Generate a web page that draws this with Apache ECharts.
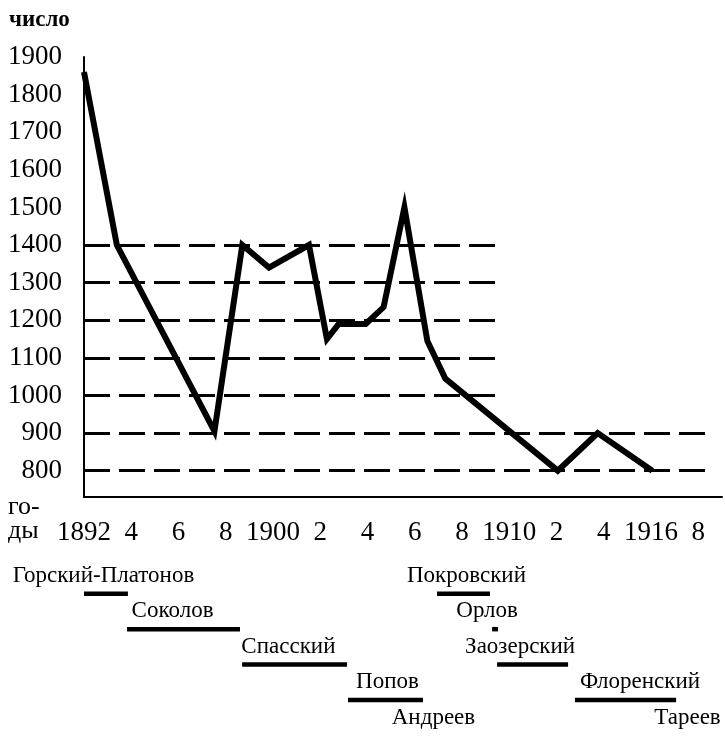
<!DOCTYPE html>
<html lang="ru">
<head>
<meta charset="utf-8">
</head>
<body style="margin: 0; background: #fff">
<div id="container" style="width: 725px; height: 736px"></div>
<script src="https://cdn.jsdelivr.net/npm/echarts@6/dist/echarts.min.js"></script>
<script>
// main curve (x in years of the drawn scale)
var lineYears = [1892.0, 1893.39, 1897.52, 1898.70, 1899.83, 1901.52, 1902.28, 1902.78,
                 1903.92, 1904.68, 1905.56, 1906.53, 1907.29, 1912.05, 1913.74, 1916.05];
var lineValues = [1860, 1400, 905, 1400, 1340, 1400, 1150, 1190,
                  1190, 1235, 1500, 1145, 1045, 800, 900, 800];

// dashed guide lines and the year where each one stops
var levels = [1400, 1300, 1200, 1100, 1000, 900, 800];
var levelEnds = [1909.4, 1909.4, 1909.4, 1909.4, 1909.4, 1918.66, 1918.66];

var valueTicks = [800, 900, 1000, 1100, 1200, 1300, 1400, 1500, 1600, 1700, 1800, 1900];
var yearTicks = [1892, 1894, 1896, 1898, 1900, 1902, 1904, 1906, 1908, 1910, 1912, 1914, 1916, 1918];
var yearTickLabels = ['1892', '4', '6', '8', '1900', '2', '4', '6', '8', '1910', '2', '4', '1916', '8'];

// names under the chart: centre year of the text and its row
var names = ['Горский-Платонов', 'Соколов', 'Спасский', 'Попов', 'Андреев',
             'Покровский', 'Орлов', 'Заозерский', 'Флоренский', 'Тареев'];
var nameYears = [1892.82, 1895.73, 1900.61, 1904.78, 1906.72,
                 1908.11, 1908.98, 1910.37, 1915.42, 1917.42];
var nameRows = [0, 1, 2, 3, 4, 0, 1, 2, 3, 4];

// underlines = terms of office
var termStart = [1892.0, 1893.81, 1898.66, 1903.12, 1906.87, 1909.19, 1909.40, 1912.68];
var termEnd = [1893.85, 1898.57, 1903.08, 1906.28, 1909.10, 1909.44, 1912.39, 1916.94];
var termRow = [0, 1, 2, 3, 0, 1, 2, 3];

var font = '"Liberation Serif", "DejaVu Serif", serif';

var chart = echarts.init(document.getElementById('container'), null, { renderer: 'canvas' });

var lineData = lineYears.map(function (y, i) { return [y, lineValues[i]]; });
var guideLines = levels.map(function (lv, i) {
  return [{ coord: [1892, lv] }, { coord: [levelEnds[i], lv] }];
});
var nameData = names.map(function (n, i) { return [nameYears[i], nameRows[i] - 0.5, n]; });
var termData = termStart.map(function (s, i) { return [s, termEnd[i], termRow[i]]; });

var option = {
  animation: false,
  backgroundColor: '#fff',
  textStyle: { fontFamily: font, color: '#000' },
  graphic: [
    { type: 'text', left: 9, top: 9, style: { text: 'число', font: 'bold 23px ' + font, fill: '#000' } },
    { type: 'text', left: 8, top: 494, style: { text: 'го-', font: '26px ' + font, fill: '#000' } },
    { type: 'text', left: 8, top: 518, style: { text: 'ды', font: '26px ' + font, fill: '#000' } }
  ],
  grid: [
    { left: 84, right: 0, top: 57, bottom: 239 },
    { left: 84, right: 0, top: 558, height: 178 }
  ],
  xAxis: [
    {
      type: 'value', gridIndex: 0, min: 1892, max: 1919, interval: 2,
      axisLine: { show: true, lineStyle: { color: '#000', width: 2 } },
      axisTick: { show: false },
      splitLine: { show: false },
      axisLabel: {
        margin: 22, fontSize: 27, fontFamily: font, color: '#000',
        formatter: function (v) {
          var i = yearTicks.indexOf(v);
          return i < 0 ? '' : yearTickLabels[i];
        }
      }
    },
    { type: 'value', gridIndex: 1, min: 1892, max: 1919, show: false }
  ],
  yAxis: [
    {
      type: 'value', gridIndex: 0, min: 730, max: 1900,
      axisLine: { show: true, lineStyle: { color: '#000', width: 2 } },
      axisTick: { show: false },
      splitLine: { show: false },
      axisLabel: {
        customValues: valueTicks,
        margin: 22, fontSize: 27, fontFamily: font, color: '#000',
        formatter: function (v) { return String(v); }
      }
    },
    { type: 'value', gridIndex: 1, min: -1, max: 4.02, inverse: true, show: false }
  ],
  series: [
    {
      type: 'line',
      xAxisIndex: 0, yAxisIndex: 0,
      data: lineData,
      symbol: 'none',
      lineStyle: { color: '#000', width: 6, join: 'miter' },
      markLine: {
        silent: true,
        symbol: 'none',
        label: { show: false },
        lineStyle: { color: '#000', width: 3, type: [26, 9] },
        data: guideLines
      },
      z: 3
    },
    {
      type: 'custom',
      xAxisIndex: 1, yAxisIndex: 1,
      data: termData,
      encode: { x: [0, 1], y: 2 },
      renderItem: function (params, api) {
        var a = api.coord([api.value(0), api.value(2)]);
        var b = api.coord([api.value(1), api.value(2)]);
        return {
          type: 'rect',
          shape: { x: a[0], y: a[1] - 2, width: b[0] - a[0], height: 4.5 },
          style: { fill: '#000' }
        };
      }
    },
    {
      type: 'custom',
      xAxisIndex: 1, yAxisIndex: 1,
      data: nameData,
      encode: { x: 0, y: 1 },
      clip: false,
      renderItem: function (params, api) {
        var p = api.coord([api.value(0), api.value(1)]);
        return {
          type: 'text',
          x: p[0], y: p[1],
          style: {
            text: nameData[params.dataIndex][2],
            fill: '#000',
            font: '23px ' + font,
            align: 'center',
            verticalAlign: 'middle'
          }
        };
      }
    }
  ]
};

chart.setOption(option);
window.addEventListener('resize', chart.resize);
</script>
</body>
</html>
